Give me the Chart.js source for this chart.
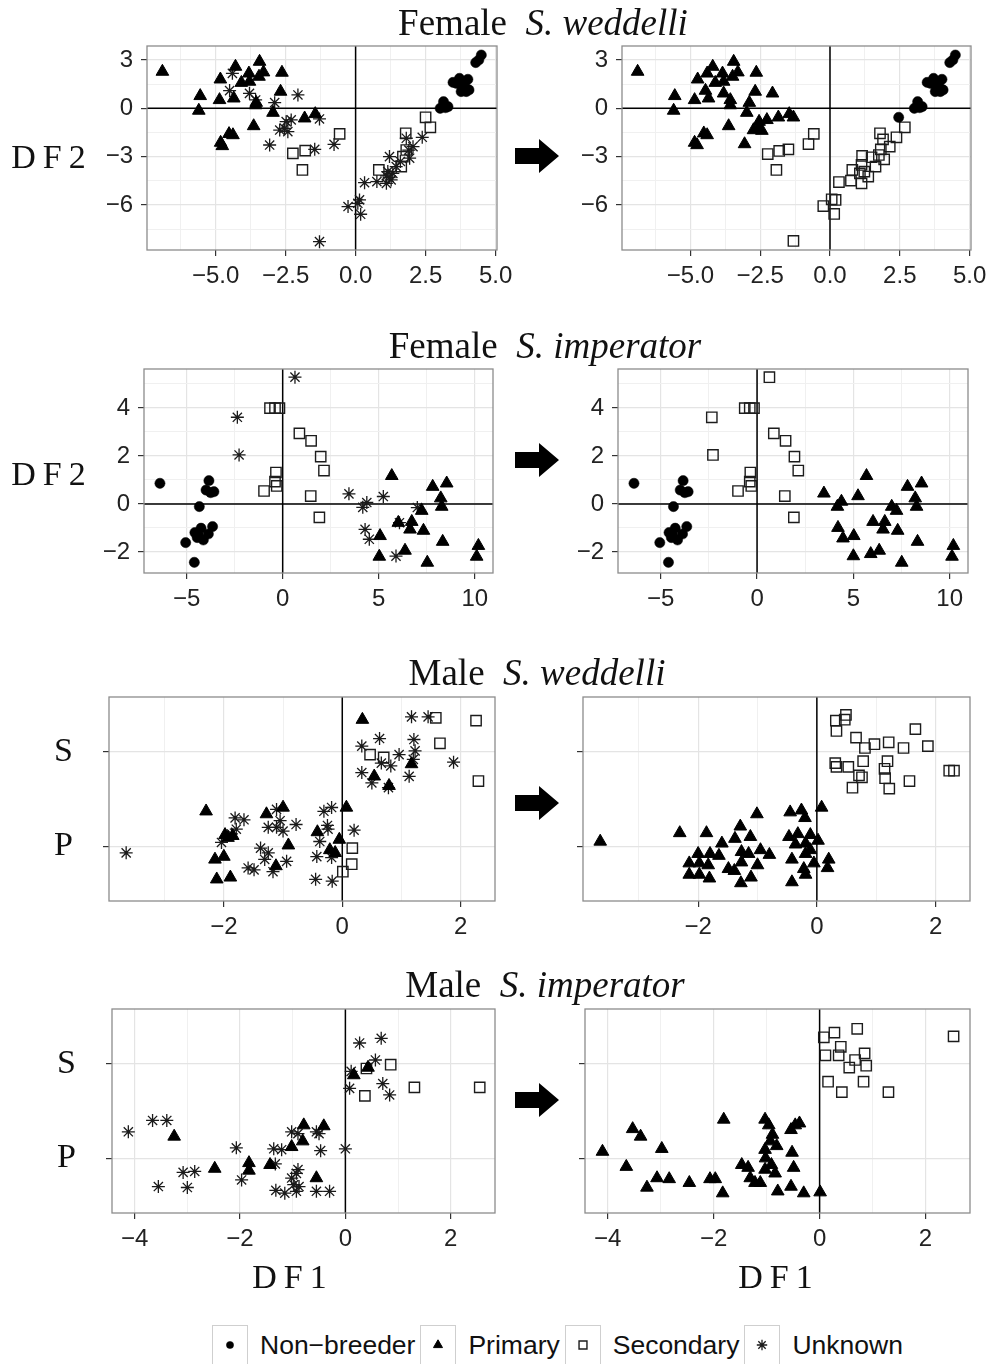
<!DOCTYPE html>
<html>
<head>
<meta charset="utf-8">
<script src="https://cdn.jsdelivr.net/npm/chart.js@4.4.1/dist/chart.umd.min.js"></script>
<style>
body { margin: 0; background: #fff; }
#page { position: relative; width: 992px; height: 1364px; overflow: hidden; background: #fff; }
.lbl { position: absolute; white-space: nowrap; line-height: 1; transform: translate(-50%, -50%);
       font-family: "Liberation Serif", serif; color: #111; }
.ttl { font-size: 37px; }
.df { font-size: 34px; letter-spacing: 7px; }
canvas.panel { position: absolute; }
svg.arrow { position: absolute; }
#legend { position: absolute; left: 212px; top: 1325px; display: flex; align-items: center;
          font-family: "Liberation Sans", sans-serif; font-size: 26.5px; color: #111; }
#legend .key { width: 36px; height: 40px; border: 1px solid #cfcfcf; box-sizing: border-box; }
#legend .txt { padding: 0 5px 0 12px; }
</style>
</head>
<body>
<div id="page"></div>
<script>
// ---- data ----
// Female S. weddelli, before / after
var fwBeforeNon = [[4.49,3.31],[4.4,3.0],[4.29,2.84],[3.48,1.61],[3.71,1.86],[4.01,1.8],[3.81,1.35],[3.95,1.04],[3.77,1.04],[4.05,1.14],[3.6,1.55],[3.9,1.6],[3.14,0.41],[3.02,0],[3.21,0.04],[3.3,0.1]];
var fwBeforePri = [[-6.9,2.28],[-5.55,0.77],[-5.6,-0.14],[-4.86,0.52],[-4.83,1.8],[-4.35,0.62],[-4.29,2.59],[-3.81,2.17],[-4.08,1.59],[-3.79,1.66],[-3.43,2.9],[-3.29,2.24],[-3.45,1.97],[-2.63,2.22],[-2.68,1.04],[-3.57,0.2],[-3.55,0.35],[-2.95,-0.27],[-1.82,-0.62],[-1.44,-0.35],[-3.64,-1.1],[-4.52,-1.59],[-4.38,-1.66],[-4.82,-2.13],[-4.76,-2.34]];
var fwBeforeSec = [[-0.57,-1.59],[-2.24,-2.8],[-1.8,-2.63],[-1.9,-3.83],[2.5,-0.56],[2.67,-1.18],[1.79,-1.55],[1.81,-2.59],[1.69,-3.0],[1.63,-3.62],[0.83,-3.83]];
var fwBeforeUnk = [[-4.4,2.17],[-4.5,1.1],[-3.79,0.93],[-3.57,0.52],[-2.89,0.35],[-2.06,0.83],[-2.48,-0.83],[-2.3,-0.72],[-2.71,-1.35],[-2.54,-1.24],[-2.42,-1.45],[-3.07,-2.28],[-1.29,-0.66],[-1.46,-2.55],[-0.77,-2.24],[-1.29,-8.28],[0.32,-4.62],[0.76,-4.55],[1.21,-3.0],[1.15,-3.93],[1.33,-4.04],[1.1,-4.66],[1.27,-4.45],[1.45,-3.62],[1.81,-1.86],[2.05,-2.38],[2.38,-1.8],[1.93,-3.1],[1.2,-4.3],[1.1,-4.2],[0.14,-5.69],[0.08,-5.9],[-0.27,-6.1],[0.18,-6.58],[1.6,-3.3],[1.9,-2.6]];
var fwAfterNon = [[4.49,3.31],[4.4,3.0],[4.29,2.84],[3.48,1.61],[3.71,1.86],[4.01,1.8],[3.81,1.35],[3.95,1.04],[3.77,1.04],[4.05,1.14],[3.6,1.55],[3.9,1.6],[3.14,0.41],[3.02,0],[3.21,0.04],[3.3,0.1],[2.46,-0.56]];
var fwAfterPri = [[-6.89,2.28],[-5.56,0.77],[-5.6,-0.14],[-4.85,0.52],[-4.74,1.8],[-4.4,2.17],[-4.2,2.59],[-4.46,1.1],[-4.35,0.62],[-4.11,1.59],[-3.85,2.17],[-3.81,1.66],[-3.81,0.93],[-3.45,2.9],[-3.3,2.24],[-3.49,1.97],[-3.57,0.52],[-3.57,0.2],[-2.64,2.22],[-2.68,1.04],[-2.89,0.35],[-2.06,0.93],[-2.98,-0.27],[-2.54,-0.83],[-2.26,-0.72],[-2.74,-1.35],[-2.56,-1.24],[-2.44,-1.39],[-1.85,-0.56],[-1.46,-0.35],[-1.31,-0.56],[-3.63,-1.1],[-4.52,-1.55],[-4.4,-1.66],[-4.85,-2.13],[-4.76,-2.28],[-3.06,-2.22]];
var fwAfterSec = [[-0.58,-1.59],[-0.77,-2.22],[-2.23,-2.84],[-1.82,-2.65],[-1.49,-2.55],[-1.92,-3.83],[-1.31,-8.24],[2.68,-1.18],[2.38,-1.8],[1.79,-1.55],[1.9,-1.93],[2.14,-2.38],[1.82,-2.55],[1.75,-2.9],[1.94,-3.17],[1.63,-3.62],[1.49,-3.04],[1.15,-2.96],[1.13,-3.52],[0.8,-3.83],[1.23,-3.93],[1.37,-4.24],[1.13,-4.66],[0.75,-4.49],[0.32,-4.58],[0.06,-5.65],[0.2,-5.69],[-0.24,-6.07],[0.15,-6.56],[1.07,-4.04]];

// Female S. imperator
var fiBeforeNon = [[-6.39,0.86],[-3.84,0.97],[-3.99,0.58],[-3.75,0.47],[-3.58,0.51],[-4.34,-0.11],[-4.57,-1.19],[-4.25,-1.01],[-3.65,-0.94],[-3.87,-1.25],[-4.39,-1.29],[-4.13,-1.5],[-5.05,-1.61],[-4.6,-2.43],[-4.45,-1.4]];
var fiBeforePri = [[5.68,1.17],[7.81,0.72],[8.54,0.86],[8.23,0.24],[8.28,-0.11],[7.24,-0.28],[6.72,-0.74],[6.02,-0.78],[6.63,-1.06],[7.33,-1.11],[5.07,-1.33],[8.33,-1.57],[6.37,-1.94],[5.03,-2.19],[7.53,-2.44],[10.19,-1.74],[10.1,-2.19]];
var fiBeforeSec = [[-0.66,3.99],[-0.4,3.99],[-0.17,3.99],[0.87,2.94],[1.48,2.63],[1.98,1.97],[2.15,1.39],[-0.35,1.31],[-0.4,0.93],[-0.31,0.75],[-0.97,0.54],[1.46,0.33],[1.91,-0.56]];
var fiBeforeUnk = [[0.64,5.28],[-2.36,3.61],[-2.27,2.04],[3.45,0.42],[4.38,0.06],[4.17,-0.14],[5.24,0.31],[7.01,-0.15],[6.08,-0.78],[4.29,-1.06],[4.51,-1.47],[5.9,-2.17]];
var fiAfterNon = fiBeforeNon;
var fiAfterPri = [[5.68,1.17],[7.81,0.72],[8.54,0.86],[8.21,0.24],[8.28,-0.11],[6.99,-0.11],[7.24,-0.28],[3.47,0.44],[4.38,0.1],[4.17,-0.11],[5.24,0.33],[6.02,-0.74],[6.63,-0.74],[6.54,-1.06],[7.3,-1.11],[4.2,-0.99],[4.46,-1.43],[5.02,-1.33],[8.33,-1.57],[6.34,-1.94],[5.9,-2.08],[5.0,-2.17],[7.51,-2.44],[10.19,-1.74],[10.12,-2.19]];
var fiAfterSec = [[0.64,5.28],[-2.35,3.61],[-2.29,2.04],[-0.64,3.99],[-0.38,3.99],[-0.16,3.99],[0.87,2.94],[1.48,2.63],[1.94,1.97],[2.14,1.39],[-0.35,1.31],[-0.38,0.93],[-0.3,0.75],[-0.99,0.54],[1.44,0.33],[1.91,-0.56]];

// Male S. weddelli (y: 1 = P, 2 = S, jittered)
var mwBeforePri = [[-2.3,1.37],[-1.98,1.12],[-1.85,1.11],[-1.93,1.09],[-2.15,0.86],[-2.0,0.89],[-2.12,0.65],[-1.89,0.67],[-1.28,1.34],[-1.0,1.41],[-0.91,1.01],[-1.12,0.79],[-0.42,1.15],[-0.21,0.96],[-0.12,0.93],[-0.05,1.07],[0.07,1.41],[0.34,2.34],[0.54,1.74],[0.79,1.64],[1.17,1.87]];
var mwBeforeSec = [[1.58,2.36],[2.26,2.33],[1.65,2.09],[0.47,1.97],[0.7,1.94],[2.3,1.69],[0.17,0.98],[0.16,0.81],[0.01,0.73]];
var mwBeforeUnk = [[-3.65,0.93],[-1.81,1.3],[-1.66,1.28],[-2.04,1.04],[-1.87,1.13],[-1.79,1.18],[-1.11,1.39],[-1.05,1.27],[-1.25,1.2],[-1.11,1.2],[-1.0,1.16],[-0.78,1.23],[-1.38,0.98],[-1.25,0.93],[-1.31,0.86],[-1.59,0.77],[-1.49,0.75],[-1.17,0.73],[-0.94,0.84],[-0.31,1.37],[-0.18,1.41],[-0.25,1.22],[-0.24,1.18],[-0.38,1.05],[-0.43,0.89],[-0.18,0.88],[-0.45,0.65],[-0.17,0.63],[0.2,1.17],[0.33,2.06],[0.63,2.14],[0.33,1.78],[0.5,1.67],[0.66,1.88],[0.82,1.85],[0.78,1.62],[0.96,1.97],[1.17,2.37],[1.45,2.37],[1.21,2.13],[1.23,2.01],[1.2,1.92],[1.13,1.74],[1.88,1.89]];
var mwAfterPri = [[-3.65,1.05],[-2.31,1.14],[-1.86,1.14],[-1.29,1.21],[-1.01,1.34],[-1.6,1.03],[-1.38,1.08],[-1.12,1.1],[-2.0,0.92],[-1.8,0.92],[-1.65,0.9],[-1.27,0.94],[-1.15,0.92],[-0.95,0.96],[-0.8,0.91],[-2.15,0.82],[-1.98,0.82],[-1.83,0.8],[-2.15,0.7],[-1.98,0.7],[-1.81,0.66],[-1.49,0.76],[-1.27,0.83],[-1.0,0.8],[-1.39,0.74],[-1.11,0.67],[-1.28,0.61],[-0.45,1.36],[-0.26,1.38],[-0.2,1.3],[0.08,1.41],[-0.47,1.1],[-0.32,1.13],[-0.11,1.12],[0.02,1.06],[-0.36,1.02],[-0.19,1.03],[-0.19,0.92],[-0.11,0.96],[-0.42,0.86],[-0.05,0.82],[0.2,0.86],[0.18,0.77],[-0.22,0.76],[-0.19,0.7],[-0.42,0.62]];
var mwAfterSec = [[0.32,2.33],[0.49,2.39],[0.47,2.34],[0.33,2.22],[0.66,2.15],[0.81,2.04],[0.97,2.08],[1.21,2.1],[1.46,2.04],[1.66,2.24],[1.87,2.06],[0.31,1.88],[0.33,1.84],[0.53,1.84],[0.78,1.9],[1.19,1.9],[1.14,1.82],[1.15,1.72],[0.71,1.75],[0.76,1.73],[1.56,1.69],[0.6,1.62],[1.22,1.61],[2.23,1.8],[2.31,1.8]];

// Male S. imperator
var miBeforePri = [[-3.25,1.23],[-2.48,0.89],[-1.83,0.95],[-1.83,0.87],[-1.43,0.93],[-1.02,1.12],[-0.81,1.18],[-0.79,1.35],[-0.41,1.34],[-0.55,0.79],[0.16,1.88],[0.43,1.96]];
var miBeforeSec = [[0.4,1.95],[0.86,1.99],[1.31,1.75],[2.55,1.75],[0.37,1.66]];
var miBeforeUnk = [[-4.12,1.28],[-3.66,1.4],[-3.39,1.4],[-3.08,0.85],[-2.86,0.86],[-3.55,0.7],[-3.0,0.69],[-2.07,1.11],[-1.97,0.77],[-1.36,1.1],[-1.21,1.09],[-1.33,0.94],[-1.02,1.28],[-0.9,1.26],[-0.55,1.28],[-0.5,1.26],[-0.47,1.08],[0,1.1],[-1.02,0.79],[-0.93,0.84],[-0.9,0.88],[-0.98,0.72],[-1.32,0.66],[-1.15,0.63],[-0.93,0.65],[-0.88,0.7],[-0.55,0.65],[-0.3,0.65],[0.27,2.22],[0.68,2.27],[0.57,2.04],[0.11,1.92],[0.08,1.74],[0.71,1.79],[0.84,1.67]];
var miAfterPri = [[-4.1,1.07],[-3.65,0.91],[-3.26,0.69],[-3.07,0.79],[-2.84,0.78],[-3.53,1.31],[-3.38,1.23],[-2.98,1.1],[-2.46,0.74],[-2.07,0.78],[-1.97,0.78],[-1.83,0.63],[-1.81,1.41],[-1.47,0.93],[-1.35,0.9],[-1.31,0.79],[-1.22,0.74],[-1.12,0.74],[-1.03,1.41],[-0.96,1.35],[-0.89,1.25],[-0.93,1.18],[-0.81,1.13],[-1.03,1.09],[-1.02,1.0],[-0.91,0.93],[-1.03,0.88],[-0.84,0.84],[-0.79,0.65],[-0.54,0.7],[-0.3,0.63],[0.01,0.64],[-0.52,1.06],[-0.49,0.9],[-0.54,1.3],[-0.46,1.35],[-0.38,1.37]];
var miAfterSec = [[0.08,2.28],[0.28,2.33],[0.71,2.37],[0.11,2.09],[0.36,2.09],[0.4,2.18],[0.85,2.11],[0.67,2.04],[0.88,1.98],[0.56,1.96],[0.16,1.81],[0.83,1.81],[0.42,1.7],[1.3,1.7],[2.53,2.29]];

// ---- ticks ----
var fwTicksX = [-5, -2.5, 0, 2.5, 5],  fwTickLabelsX = ['\u22125.0', '\u22122.5', '0.0', '2.5', '5.0'];
var fwMinorX = [-6.25, -3.75, -1.25, 1.25, 3.75];
var fwTicksY = [-6, -3, 0, 3],         fwTickLabelsY = ['\u22126', '\u22123', '0', '3'];
var fwMinorY = [-7.5, -4.5, -1.5, 1.5];
var fiTicksX = [-5, 0, 5, 10],         fiTickLabelsX = ['\u22125', '0', '5', '10'];
var fiMinorX = [-2.5, 2.5, 7.5];
var fiTicksY = [-2, 0, 2, 4],          fiTickLabelsY = ['\u22122', '0', '2', '4'];
var fiMinorY = [-1, 1, 3, 5];
var mwTicksX = [-2, 0, 2],             mwTickLabelsX = ['\u22122', '0', '2'];
var mwMinorX = [-3, -1, 1];
var miTicksX = [-4, -2, 0, 2],         miTickLabelsX = ['\u22124', '\u22122', '0', '2'];
var miMinorX = [-3, -1, 1];
var groupTicks = [1, 2],               groupLabels = ['P', 'S'];

var legendLabels = ['Non\u2212breeder', 'Primary', 'Secondary', 'Unknown'];

// ---- styles ----
var STYLE = {
    non: { pointStyle: 'circle',   radius: 5.1, bg: '#000', border: '#000', bw: 0.5 },
    pri: { pointStyle: 'triangle', radius: 7.3, bg: '#000', border: '#000', bw: 1 },
    sec: { pointStyle: 'rect',     radius: 7.3, bg: 'rgba(0,0,0,0)', border: '#1c1c1c', bw: 1.4 },
    unk: { pointStyle: 'star',     radius: 6.5, bg: 'rgba(0,0,0,0)', border: '#1a1a1a', bw: 1.3 }
};
var LEG = { non: 3.6, pri: 5.2, sec: 5.6, unk: 5.2 };

var YW = 100, XH = 50, PT = 16, PR = 30;
var page = document.getElementById('page');

Chart.defaults.font.family = '"Liberation Sans", sans-serif';

var frame = {
    id: 'frame',
    beforeDatasetsDraw: function(chart, args, opts) {
        var a = chart.chartArea, ctx = chart.ctx;
        ctx.save();
        ctx.beginPath();
        ctx.rect(a.left, a.top, a.right - a.left, a.bottom - a.top);
        ctx.clip();
        ctx.strokeStyle = '#000';
        ctx.lineWidth = 1.5;
        ctx.beginPath();
        var x0 = chart.scales.x.getPixelForValue(0);
        ctx.moveTo(x0, a.top); ctx.lineTo(x0, a.bottom);
        if (opts.hline) {
            var y0 = chart.scales.y.getPixelForValue(0);
            ctx.moveTo(a.left, y0); ctx.lineTo(a.right, y0);
        }
        ctx.stroke();
        ctx.restore();
    },
    afterDatasetsDraw: function(chart) {
        var a = chart.chartArea, ctx = chart.ctx;
        ctx.save();
        ctx.strokeStyle = '#8c8c8c';
        ctx.lineWidth = 1.3;
        ctx.strokeRect(a.left, a.top, a.right - a.left, a.bottom - a.top);
        ctx.restore();
    }
};

function toXY(arr) {
    return arr.map(function(p) { return { x: p[0], y: p[1] }; });
}

function dataset(arr, key) {
    var s = STYLE[key];
    return {
        data: toXY(arr),
        pointStyle: s.pointStyle,
        pointRadius: s.radius,
        pointHoverRadius: s.radius,
        pointBackgroundColor: s.bg,
        pointBorderColor: s.border,
        pointBorderWidth: s.bw,
        clip: false
    };
}

function axis(ax, isY, showLabels) {
    var major = ax.major, labels = ax.labels;
    var all = major.concat(ax.minor || []).sort(function(a, b) { return a - b; });
    return {
        type: 'linear', min: ax.min, max: ax.max,
        afterBuildTicks: function(scale) {
            scale.ticks = all.map(function(v) { return { value: v }; });
        },
        afterFit: function(scale) {
            // fixed axis sizes so the plot areas land where the figure has them
            if (isY) scale.width = YW; else scale.height = XH;
            scale.paddingTop = scale.paddingBottom = scale.paddingLeft = scale.paddingRight = 0;
        },
        border: { display: false },
        grid: {
            color: function(c) { return major.indexOf(c.tick.value) < 0 ? '#f0f0f0' : '#e4e4e4'; },
            lineWidth: function(c) { return major.indexOf(c.tick.value) < 0 ? 1 : 1.2; },
            tickColor: function(c) { return major.indexOf(c.tick.value) < 0 ? 'rgba(0,0,0,0)' : '#333'; },
            tickLength: 6,
            tickWidth: 1.2
        },
        ticks: {
            autoSkip: false, maxRotation: 0, minRotation: 0,
            padding: ax.big ? 30 : (isY ? 8 : 6),
            color: ax.big ? '#111' : '#222',
            font: ax.big ? { family: '"Liberation Serif", serif', size: 34 } : { size: 24 },
            callback: function(v) {
                var i = major.indexOf(v);
                return (i < 0 || !showLabels) ? '' : labels[i];
            }
        }
    };
}

function panel(rect, xs, ys, sets, hline, yLabels) {
    var l = rect[0], t = rect[1], r = rect[2], b = rect[3];
    var cv = document.createElement('canvas');
    cv.className = 'panel';
    var w = (r - l) + YW + PR, h = (b - t) + PT + XH;
    cv.width = w; cv.height = h;
    cv.style.left = (l - YW) + 'px';
    cv.style.top = (t - PT) + 'px';
    cv.style.width = w + 'px';
    cv.style.height = h + 'px';
    page.appendChild(cv);
    new Chart(cv.getContext('2d'), {
        type: 'scatter',
        data: { datasets: sets },
        options: {
            responsive: false, animation: false, devicePixelRatio: 1,
            layout: { padding: { top: PT, right: PR, left: 0, bottom: 0 } },
            plugins: { legend: { display: false }, tooltip: { enabled: false }, frame: { hline: hline } },
            scales: {
                x: axis(xs, false, true),
                y: axis(ys, true, yLabels)
            }
        },
        plugins: [frame]
    });
}

function text(html, cx, cy, cls) {
    var d = document.createElement('div');
    d.className = 'lbl ' + cls;
    d.innerHTML = html;
    d.style.left = cx + 'px';
    d.style.top = cy + 'px';
    page.appendChild(d);
}

function arrow(x, cy) {
    var ns = 'http://www.w3.org/2000/svg';
    var s = document.createElementNS(ns, 'svg');
    s.setAttribute('class', 'arrow');
    s.setAttribute('width', 44); s.setAttribute('height', 34);
    s.style.left = x + 'px'; s.style.top = (cy - 17) + 'px';
    var p = document.createElementNS(ns, 'polygon');
    p.setAttribute('points', '0,9 24,9 24,0 44,17 24,34 24,25 0,25');
    p.setAttribute('fill', '#000');
    s.appendChild(p);
    page.appendChild(s);
}

// ---- panels ----
var fwX = { major: fwTicksX, labels: fwTickLabelsX, minor: fwMinorX, min: -7.45, max: 5.05 };
var fwY = { major: fwTicksY, labels: fwTickLabelsY, minor: fwMinorY, min: -8.8, max: 3.87 };
var fiX = { major: fiTicksX, labels: fiTickLabelsX, minor: fiMinorX, min: -7.22, max: 10.95 };
var fiY = { major: fiTicksY, labels: fiTickLabelsY, minor: fiMinorY, min: -2.875, max: 5.62 };
var mwX = { major: mwTicksX, labels: mwTickLabelsX, minor: mwMinorX, min: -3.94, max: 2.58 };
var miX = { major: miTicksX, labels: miTickLabelsX, minor: miMinorX, min: -4.43, max: 2.84 };
var grpY = { major: groupTicks, labels: groupLabels, minor: [], min: 0.42, max: 2.58, big: true };

panel([147, 46, 497, 250], fwX, fwY, [dataset(fwBeforeNon, 'non'), dataset(fwBeforePri, 'pri'), dataset(fwBeforeSec, 'sec'), dataset(fwBeforeUnk, 'unk')], true, true);
panel([622, 46, 971, 250], fwX, fwY, [dataset(fwAfterNon, 'non'), dataset(fwAfterPri, 'pri'), dataset(fwAfterSec, 'sec')], true, true);
panel([144, 369, 493, 573], fiX, fiY, [dataset(fiBeforeNon, 'non'), dataset(fiBeforePri, 'pri'), dataset(fiBeforeSec, 'sec'), dataset(fiBeforeUnk, 'unk')], true, true);
panel([618, 369, 968, 573], fiX, fiY, [dataset(fiAfterNon, 'non'), dataset(fiAfterPri, 'pri'), dataset(fiAfterSec, 'sec')], true, true);
panel([109, 697, 495, 901], mwX, grpY, [dataset(mwBeforePri, 'pri'), dataset(mwBeforeSec, 'sec'), dataset(mwBeforeUnk, 'unk')], false, true);
panel([583, 697, 970, 901], mwX, grpY, [dataset(mwAfterPri, 'pri'), dataset(mwAfterSec, 'sec')], false, false);
panel([112, 1009, 495, 1213], miX, grpY, [dataset(miBeforePri, 'pri'), dataset(miBeforeSec, 'sec'), dataset(miBeforeUnk, 'unk')], false, true);
panel([585, 1009, 970, 1213], miX, grpY, [dataset(miAfterPri, 'pri'), dataset(miAfterSec, 'sec')], false, false);

// ---- titles, axis titles, arrows ----
text('Female&nbsp; <i>S. weddelli</i>', 543, 22, 'ttl');
text('Female&nbsp; <i>S. imperator</i>', 545, 345, 'ttl');
text('Male&nbsp; <i>S. weddelli</i>', 537, 672, 'ttl');
text('Male&nbsp; <i>S. imperator</i>', 545, 984, 'ttl');
text('DF2', 52, 157, 'df');
text('DF2', 52, 474, 'df');
text('DF1', 293, 1277, 'df');
text('DF1', 779, 1277, 'df');
arrow(515, 156);
arrow(515, 460);
arrow(515, 803);
arrow(515, 1100);

// ---- legend ----
var leg = document.createElement('div');
leg.id = 'legend';
page.appendChild(leg);
['non', 'pri', 'sec', 'unk'].forEach(function(k, i) {
    var key = document.createElement('div');
    key.className = 'key';
    var c = document.createElement('canvas');
    c.width = 34; c.height = 38;
    key.appendChild(c);
    leg.appendChild(key);
    var s = STYLE[k], ctx = c.getContext('2d');
    ctx.fillStyle = s.bg; ctx.strokeStyle = s.border; ctx.lineWidth = s.bw;
    Chart.helpers.drawPoint(ctx, { pointStyle: s.pointStyle, radius: LEG[k], borderWidth: s.bw, rotation: 0 }, 17, 19);
    var tx = document.createElement('div');
    tx.className = 'txt';
    tx.textContent = legendLabels[i];
    leg.appendChild(tx);
});
</script>
</body>
</html>
